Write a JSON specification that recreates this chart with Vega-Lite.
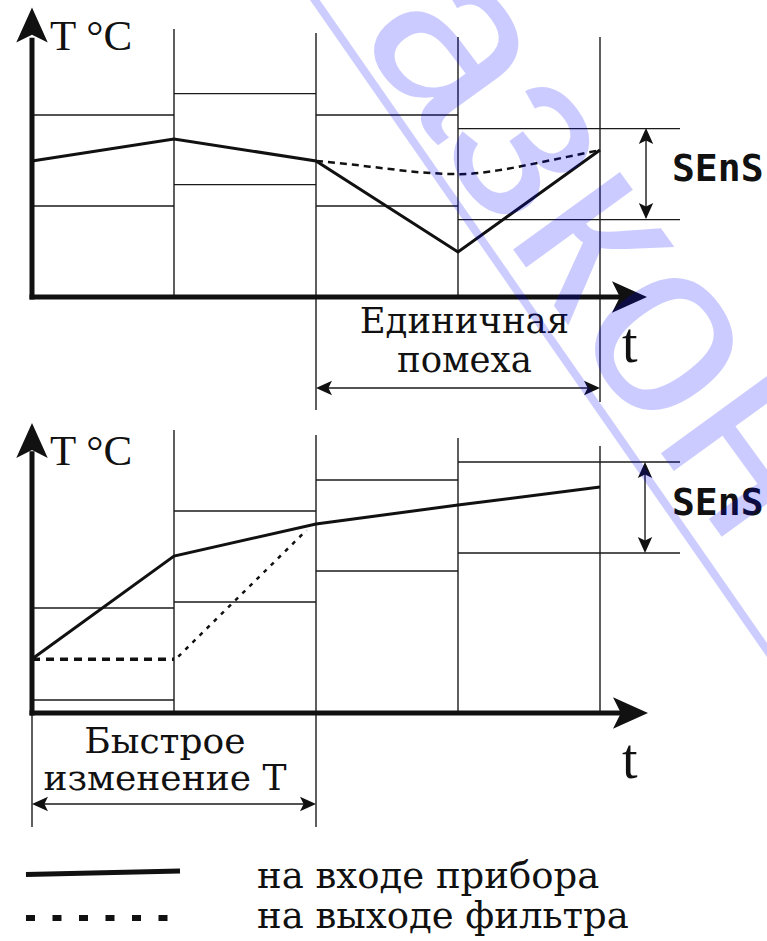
{
  "$schema": "https://vega.github.io/schema/vega-lite/v6.json",
  "width": 767,
  "height": 941,
  "autosize": {"type": "none"},
  "padding": 0,
  "background": "white",
  "config": {"view": {"stroke": null}},
  "datasets": {
    "topThin": [
      {"t": 1, "t2": 1, "T": 0, "T2": 58.9},
      {"t": 2, "t2": 2, "T": -24.84, "T2": 58.02},
      {"t": 3, "t2": 3, "T": 0, "T2": 57.14},
      {"t": 4, "t2": 4, "T": -23.08, "T2": 57.14},
      {"t": 0, "t2": 1, "T": 40, "T2": 40},
      {"t": 0, "t2": 1, "T": 20, "T2": 20},
      {"t": 1, "t2": 2, "T": 44.7, "T2": 44.7},
      {"t": 1, "t2": 2, "T": 24.7, "T2": 24.7},
      {"t": 2, "t2": 3, "T": 40, "T2": 40},
      {"t": 2, "t2": 3, "T": 20, "T2": 20},
      {"t": 3, "t2": 4.5634, "T": 37, "T2": 37},
      {"t": 3, "t2": 4.5634, "T": 17, "T2": 17},
      {"t": 4.324, "t2": 4.324, "T": 17.5, "T2": 36.5},
      {"t": 2.02, "t2": 3.98, "T": -20, "T2": -20}
    ],
    "botThin": [
      {"t": 0, "t2": 0, "T": -25.05, "T2": 0},
      {"t": 1, "t2": 1, "T": 0, "T2": 62.2},
      {"t": 2, "t2": 2, "T": -25.05, "T2": 61.1},
      {"t": 3, "t2": 3, "T": 0, "T2": 60.44},
      {"t": 4, "t2": 4, "T": 0, "T2": 58.68},
      {"t": 0, "t2": 1, "T": 23.08, "T2": 23.08},
      {"t": 0, "t2": 1, "T": 2.86, "T2": 2.86},
      {"t": 1, "t2": 2, "T": 44.4, "T2": 44.4},
      {"t": 1, "t2": 2, "T": 24.4, "T2": 24.4},
      {"t": 2, "t2": 3, "T": 51.2, "T2": 51.2},
      {"t": 2, "t2": 3, "T": 31.2, "T2": 31.2},
      {"t": 3, "t2": 4.5634, "T": 55.16, "T2": 55.16},
      {"t": 3, "t2": 4.5634, "T": 35.16, "T2": 35.16},
      {"t": 4.317, "t2": 4.317, "T": 35.7, "T2": 54.6},
      {"t": 0.02, "t2": 1.98, "T": -20, "T2": -20}
    ],
    "topThick": [
      {"t": 0, "t2": 0, "T": -0.55, "T2": 57},
      {"t": -0.0176, "t2": 4.2, "T": 0, "T2": 0}
    ],
    "botThick": [
      {"t": 0, "t2": 0, "T": -0.55, "T2": 57.5},
      {"t": -0.0176, "t2": 4.2, "T": 0, "T2": 0}
    ],
    "topSolid": [
      {"t": 0, "T": 29.9}, {"t": 1, "T": 34.73}, {"t": 2, "T": 29.9}, {"t": 3, "T": 9.9}, {"t": 4, "T": 32.31}
    ],
    "topDash": [
      {"t": 2, "T": 29.9}, {"t": 2.286, "T": 29.0}, {"t": 2.472, "T": 28.3}, {"t": 2.824, "T": 27.2},
      {"t": 3.014, "T": 27.0}, {"t": 3.296, "T": 27.9}, {"t": 3.486, "T": 29.0}, {"t": 3.768, "T": 30.8},
      {"t": 3.986, "T": 32.2}
    ],
    "botSolid": [
      {"t": 0, "T": 11.87}, {"t": 1, "T": 34.5}, {"t": 2, "T": 41.54}, {"t": 3, "T": 45.71}, {"t": 4, "T": 49.67}
    ],
    "botDashFlat": [
      {"t": 0, "T": 11.8}, {"t": 1, "T": 11.8}
    ],
    "botDotted": [
      {"t": 1.03, "T": 12.4}, {"t": 1.934, "T": 40.2}
    ],
    "topArrowsBig": [
      {"t": 4.2077, "T": 0, "dir": "right"},
      {"t": 0, "T": 59.78, "dir": "up"}
    ],
    "botArrowsBig": [
      {"t": 4.2148, "T": 0, "dir": "right"},
      {"t": 0, "T": 59.89, "dir": "up"}
    ],
    "topArrowsSmall": [
      {"t": 4.324, "T": 35.38, "dir": "up"},
      {"t": 4.324, "T": 18.9, "dir": "down"},
      {"t": 2.0563, "T": -20, "dir": "left"},
      {"t": 3.9437, "T": -20, "dir": "right"}
    ],
    "botArrowsSmall": [
      {"t": 4.317, "T": 53.41, "dir": "up"},
      {"t": 4.317, "T": 36.92, "dir": "down"},
      {"t": 0.0563, "T": -20, "dir": "left"},
      {"t": 1.9437, "T": -20, "dir": "right"}
    ],
    "topAxisTitle": [{"t": 0.1268, "T": 54.29, "label": "T °C"}],
    "botAxisTitle": [{"t": 0.1268, "T": 54.5, "label": "T °C"}],
    "topT": [{"t": 4.155, "T": -14.29, "label": "t"}],
    "botT": [{"t": 4.155, "T": -14.29, "label": "t"}],
    "topCaption": [
      {"t": 3.045, "T": -7.91, "label": "Единичная"},
      {"t": 3.045, "T": -16.48, "label": "помеха"}
    ],
    "botCaption": [
      {"t": 0.936, "T": -8.79, "label": "Быстрое"},
      {"t": 0.936, "T": -16.92, "label": "изменение T"}
    ],
    "topSens": [{"t": 4.507, "T": 27.9, "label": "SEnS"}],
    "botSens": [{"t": 4.507, "T": 46.04, "label": "SEnS"}],
    "legendSolid": [{"t": -0.0423, "t2": 1.0423, "T": -35.49, "T2": -34.73}],
    "legendDash": [{"t": -0.0423, "t2": 1.0563, "T": -45.05, "T2": -45.05}],
    "legendText": [
      {"t": 1.5845, "T": -38.46, "label": "на входе прибора"},
      {"t": 1.5845, "T": -47.25, "label": "на выходе фильтра"}
    ],
    "watermarkLine": [{"t": 1.894, "t2": 5.338, "T": 161.1, "T2": 6.59}],
    "watermarkText": [{"t": 4.032, "T": 102.2, "label": "азкон"}]
  },
  "encoding": {
    "x": {"field": "t", "type": "quantitative", "scale": {"domain": [-0.22535, 5.17606], "nice": false, "zero": false}, "axis": null}
  },
  "resolve": {"scale": {"y": "independent"}},
  "layer": [
    {
      "data": {"name": "topThin"},
      "mark": {"type": "rule", "color": "#1a1a1a", "strokeWidth": 1.4},
      "encoding": {
        "x2": {"field": "t2"},
        "y": {"field": "T", "type": "quantitative", "scale": {"domain": [-141.538, 65.275], "nice": false, "zero": false}, "axis": null},
        "y2": {"field": "T2"}
      }
    },
    {
      "data": {"name": "botThin"},
      "mark": {"type": "rule", "color": "#1a1a1a", "strokeWidth": 1.4},
      "encoding": {
        "x2": {"field": "t2"},
        "y": {"field": "T", "type": "quantitative", "scale": {"domain": [-50.11, 156.703], "nice": false, "zero": false}, "axis": null},
        "y2": {"field": "T2"}
      }
    },
    {
      "data": {"name": "topThick"},
      "mark": {"type": "rule", "color": "#111", "strokeWidth": 5},
      "encoding": {
        "x2": {"field": "t2"},
        "y": {"field": "T", "type": "quantitative", "scale": {"domain": [-141.538, 65.275], "nice": false, "zero": false}, "axis": null},
        "y2": {"field": "T2"}
      }
    },
    {
      "data": {"name": "botThick"},
      "mark": {"type": "rule", "color": "#111", "strokeWidth": 5},
      "encoding": {
        "x2": {"field": "t2"},
        "y": {"field": "T", "type": "quantitative", "scale": {"domain": [-50.11, 156.703], "nice": false, "zero": false}, "axis": null},
        "y2": {"field": "T2"}
      }
    },
    {
      "data": {"name": "topSolid"},
      "mark": {"type": "line", "color": "#111", "strokeWidth": 3},
      "encoding": {
        "y": {"field": "T", "type": "quantitative", "scale": {"domain": [-141.538, 65.275], "nice": false, "zero": false}, "axis": null}
      }
    },
    {
      "data": {"name": "topDash"},
      "mark": {"type": "line", "color": "#111", "strokeWidth": 2.5, "strokeDash": [7, 5], "interpolate": "monotone"},
      "encoding": {
        "y": {"field": "T", "type": "quantitative", "scale": {"domain": [-141.538, 65.275], "nice": false, "zero": false}, "axis": null}
      }
    },
    {
      "data": {"name": "botSolid"},
      "mark": {"type": "line", "color": "#111", "strokeWidth": 3},
      "encoding": {
        "y": {"field": "T", "type": "quantitative", "scale": {"domain": [-50.11, 156.703], "nice": false, "zero": false}, "axis": null}
      }
    },
    {
      "data": {"name": "botDashFlat"},
      "mark": {"type": "line", "color": "#111", "strokeWidth": 3.5, "strokeDash": [8, 6]},
      "encoding": {
        "y": {"field": "T", "type": "quantitative", "scale": {"domain": [-50.11, 156.703], "nice": false, "zero": false}, "axis": null}
      }
    },
    {
      "data": {"name": "botDotted"},
      "mark": {"type": "line", "color": "#111", "strokeWidth": 2.5, "strokeDash": [4, 6]},
      "encoding": {
        "y": {"field": "T", "type": "quantitative", "scale": {"domain": [-50.11, 156.703], "nice": false, "zero": false}, "axis": null}
      }
    },
    {
      "data": {"name": "topArrowsBig"},
      "mark": {"type": "point", "filled": true, "opacity": 1, "color": "#111", "size": 1225, "strokeWidth": 0},
      "encoding": {
        "y": {"field": "T", "type": "quantitative", "scale": {"domain": [-141.538, 65.275], "nice": false, "zero": false}, "axis": null},
        "shape": {"field": "dir", "type": "nominal", "legend": null, "scale": {"domain": ["up", "down", "left", "right"], "range": ["M0,-1L-0.9,1L0,0.55L0.9,1Z", "M0,1L-0.9,-1L0,-0.55L0.9,-1Z", "M-1,0L1,-0.9L0.55,0L1,0.9Z", "M1,0L-1,-0.9L-0.55,0L-1,0.9Z"]}}
      }
    },
    {
      "data": {"name": "botArrowsBig"},
      "mark": {"type": "point", "filled": true, "opacity": 1, "color": "#111", "size": 1225, "strokeWidth": 0},
      "encoding": {
        "y": {"field": "T", "type": "quantitative", "scale": {"domain": [-50.11, 156.703], "nice": false, "zero": false}, "axis": null},
        "shape": {"field": "dir", "type": "nominal", "legend": null, "scale": {"domain": ["up", "down", "left", "right"], "range": ["M0,-1L-0.9,1L0,0.55L0.9,1Z", "M0,1L-0.9,-1L0,-0.55L0.9,-1Z", "M-1,0L1,-0.9L0.55,0L1,0.9Z", "M1,0L-1,-0.9L-0.55,0L-1,0.9Z"]}}
      }
    },
    {
      "data": {"name": "topArrowsSmall"},
      "mark": {"type": "point", "filled": true, "opacity": 1, "color": "#111", "size": 256, "strokeWidth": 0},
      "encoding": {
        "y": {"field": "T", "type": "quantitative", "scale": {"domain": [-141.538, 65.275], "nice": false, "zero": false}, "axis": null},
        "shape": {"field": "dir", "type": "nominal", "legend": null, "scale": {"domain": ["up", "down", "left", "right"], "range": ["M0,-1L-0.8,1L0,0.55L0.8,1Z", "M0,1L-0.8,-1L0,-0.55L0.8,-1Z", "M-1,0L1,-0.8L0.55,0L1,0.8Z", "M1,0L-1,-0.8L-0.55,0L-1,0.8Z"]}}
      }
    },
    {
      "data": {"name": "botArrowsSmall"},
      "mark": {"type": "point", "filled": true, "opacity": 1, "color": "#111", "size": 256, "strokeWidth": 0},
      "encoding": {
        "y": {"field": "T", "type": "quantitative", "scale": {"domain": [-50.11, 156.703], "nice": false, "zero": false}, "axis": null},
        "shape": {"field": "dir", "type": "nominal", "legend": null, "scale": {"domain": ["up", "down", "left", "right"], "range": ["M0,-1L-0.8,1L0,0.55L0.8,1Z", "M0,1L-0.8,-1L0,-0.55L0.8,-1Z", "M-1,0L1,-0.8L0.55,0L1,0.8Z", "M1,0L-1,-0.8L-0.55,0L-1,0.8Z"]}}
      }
    },
    {
      "data": {"name": "topAxisTitle"},
      "mark": {"type": "text", "font": "Liberation Serif", "fontSize": 43, "color": "#111", "align": "left", "baseline": "alphabetic"},
      "encoding": {
        "y": {"field": "T", "type": "quantitative", "scale": {"domain": [-141.538, 65.275], "nice": false, "zero": false}, "axis": null},
        "text": {"field": "label"}
      }
    },
    {
      "data": {"name": "botAxisTitle"},
      "mark": {"type": "text", "font": "Liberation Serif", "fontSize": 43, "color": "#111", "align": "left", "baseline": "alphabetic"},
      "encoding": {
        "y": {"field": "T", "type": "quantitative", "scale": {"domain": [-50.11, 156.703], "nice": false, "zero": false}, "axis": null},
        "text": {"field": "label"}
      }
    },
    {
      "data": {"name": "topT"},
      "mark": {"type": "text", "font": "Liberation Serif", "fontSize": 56, "color": "#111", "align": "left", "baseline": "alphabetic"},
      "encoding": {
        "y": {"field": "T", "type": "quantitative", "scale": {"domain": [-141.538, 65.275], "nice": false, "zero": false}, "axis": null},
        "text": {"field": "label"}
      }
    },
    {
      "data": {"name": "botT"},
      "mark": {"type": "text", "font": "Liberation Serif", "fontSize": 56, "color": "#111", "align": "left", "baseline": "alphabetic"},
      "encoding": {
        "y": {"field": "T", "type": "quantitative", "scale": {"domain": [-50.11, 156.703], "nice": false, "zero": false}, "axis": null},
        "text": {"field": "label"}
      }
    },
    {
      "data": {"name": "topCaption"},
      "mark": {"type": "text", "font": "DejaVu Serif", "fontSize": 35.5, "color": "#111", "align": "center", "baseline": "alphabetic"},
      "encoding": {
        "y": {"field": "T", "type": "quantitative", "scale": {"domain": [-141.538, 65.275], "nice": false, "zero": false}, "axis": null},
        "text": {"field": "label"}
      }
    },
    {
      "data": {"name": "botCaption"},
      "mark": {"type": "text", "font": "DejaVu Serif", "fontSize": 36, "color": "#111", "align": "center", "baseline": "alphabetic"},
      "encoding": {
        "y": {"field": "T", "type": "quantitative", "scale": {"domain": [-50.11, 156.703], "nice": false, "zero": false}, "axis": null},
        "text": {"field": "label"}
      }
    },
    {
      "data": {"name": "topSens"},
      "mark": {"type": "text", "font": "DejaVu Sans Mono", "fontWeight": "bold", "fontSize": 38, "color": "#111", "align": "left", "baseline": "middle"},
      "encoding": {
        "y": {"field": "T", "type": "quantitative", "scale": {"domain": [-141.538, 65.275], "nice": false, "zero": false}, "axis": null},
        "text": {"field": "label"}
      }
    },
    {
      "data": {"name": "botSens"},
      "mark": {"type": "text", "font": "DejaVu Sans Mono", "fontWeight": "bold", "fontSize": 38, "color": "#111", "align": "left", "baseline": "middle"},
      "encoding": {
        "y": {"field": "T", "type": "quantitative", "scale": {"domain": [-50.11, 156.703], "nice": false, "zero": false}, "axis": null},
        "text": {"field": "label"}
      }
    },
    {
      "data": {"name": "legendSolid"},
      "mark": {"type": "rule", "color": "#111", "strokeWidth": 5},
      "encoding": {
        "x2": {"field": "t2"},
        "y": {"field": "T", "type": "quantitative", "scale": {"domain": [-50.11, 156.703], "nice": false, "zero": false}, "axis": null},
        "y2": {"field": "T2"}
      }
    },
    {
      "data": {"name": "legendDash"},
      "mark": {"type": "rule", "color": "#111", "strokeWidth": 6, "strokeDash": [9, 17.5]},
      "encoding": {
        "x2": {"field": "t2"},
        "y": {"field": "T", "type": "quantitative", "scale": {"domain": [-50.11, 156.703], "nice": false, "zero": false}, "axis": null},
        "y2": {"field": "T2"}
      }
    },
    {
      "data": {"name": "legendText"},
      "mark": {"type": "text", "font": "DejaVu Serif", "fontSize": 37, "color": "#111", "align": "left", "baseline": "alphabetic"},
      "encoding": {
        "y": {"field": "T", "type": "quantitative", "scale": {"domain": [-50.11, 156.703], "nice": false, "zero": false}, "axis": null},
        "text": {"field": "label"}
      }
    },
    {
      "data": {"name": "watermarkLine"},
      "mark": {"type": "rule", "color": "#0000ff", "opacity": 0.2, "strokeWidth": 8},
      "encoding": {
        "x2": {"field": "t2"},
        "y": {"field": "T", "type": "quantitative", "scale": {"domain": [-50.11, 156.703], "nice": false, "zero": false}, "axis": null},
        "y2": {"field": "T2"}
      }
    },
    {
      "data": {"name": "watermarkText"},
      "mark": {"type": "text", "font": "Liberation Sans", "fontSize": 250, "angle": 54, "color": "#0000ff", "opacity": 0.2, "align": "center", "baseline": "middle"},
      "encoding": {
        "y": {"field": "T", "type": "quantitative", "scale": {"domain": [-50.11, 156.703], "nice": false, "zero": false}, "axis": null},
        "text": {"field": "label"}
      }
    }
  ]
}
